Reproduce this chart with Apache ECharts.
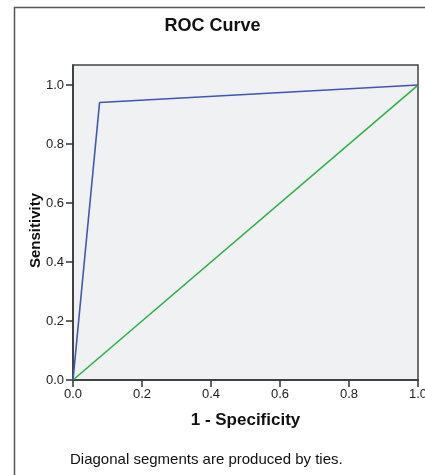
<!DOCTYPE html>
<html><head><meta charset="utf-8">
<script src="https://cdn.jsdelivr.net/npm/echarts@6/dist/echarts.min.js"></script>
<style>html,body{margin:0;padding:0;background:#fff}#c{width:425px;height:475px}</style>
</head><body><div id="c"></div>
<script>
const rocX = [0.0, 0.077, 1.0];
const rocY = [0.0, 0.941, 1.0];
const refX = [0.0, 1.0];
const refY = [0.0, 1.0];
const tickValues = [0, 0.2, 0.4, 0.6, 0.8, 1.0];

const chart = echarts.init(document.getElementById('c'), null, {renderer: 'canvas'});
const font = 'Liberation Sans, Arial, sans-serif';
chart.setOption({
  animation: false,
  backgroundColor: '#fff',
  title: {
    text: 'ROC Curve', left: 'center', top: 12,
    textStyle: {fontFamily: font, fontSize: 18, fontWeight: 'bold', color: '#111'}
  },
  graphic: [
    {type: 'rect', shape: {x: 14.5, y: 7.5, width: 440, height: 500},
     style: {fill: 'none', stroke: '#555', lineWidth: 1.5}, z: -1},
    {type: 'text', left: 70, top: 452,
     style: {text: 'Diagonal segments are produced by ties.', font: '15px ' + font, fill: '#111'}}
  ],
  grid: {left: 73, top: 65, right: 7, bottom: 95, show: true, outerBoundsMode: 'none', containLabel: false,
         backgroundColor: '#f0f1f2', borderColor: '#444', borderWidth: 1.5},
  xAxis: {
    type: 'value', min: 0, max: 1, interval: 0.2,
    name: '1 - Specificity', nameLocation: 'middle', nameGap: 32, nameMoveOverlap: false,
    nameTextStyle: {fontFamily: font, fontSize: 17, fontWeight: 'bold', color: '#111'},
    axisLine: {show: true, lineStyle: {color: '#333', width: 1.5}},
    axisTick: {show: true, length: 7, lineStyle: {color: '#333', width: 1.5}},
    axisLabel: {margin: 8, fontFamily: font, fontSize: 13, color: '#222',
                formatter: v => v.toFixed(1)},
    splitLine: {show: false}
  },
  yAxis: {
    type: 'value', min: 0, max: 1.068,
    name: 'Sensitivity', nameLocation: 'middle', nameGap: 30, nameRotate: 90, nameMoveOverlap: false,
    nameTextStyle: {fontFamily: font, fontSize: 15, fontWeight: 'bold', color: '#111', padding: [0, 16, 0, 0]},
    axisLine: {show: true, lineStyle: {color: '#333', width: 1.5}},
    axisTick: {show: true, length: 7, customValues: tickValues, lineStyle: {color: '#333', width: 1.5}},
    axisLabel: {margin: 9, fontFamily: font, fontSize: 13, color: '#222', customValues: tickValues,
                formatter: v => v.toFixed(1)},
    splitLine: {show: false}
  },
  series: [
    {type: 'line', data: rocX.map((x, i) => [x, rocY[i]]), showSymbol: false,
     lineStyle: {color: '#3d56b8', width: 1.6}, z: 3},
    {type: 'line', data: refX.map((x, i) => [x, refY[i]]), showSymbol: false,
     lineStyle: {color: '#2db34a', width: 1.6}, z: 2}
  ]
});
</script></body></html>
